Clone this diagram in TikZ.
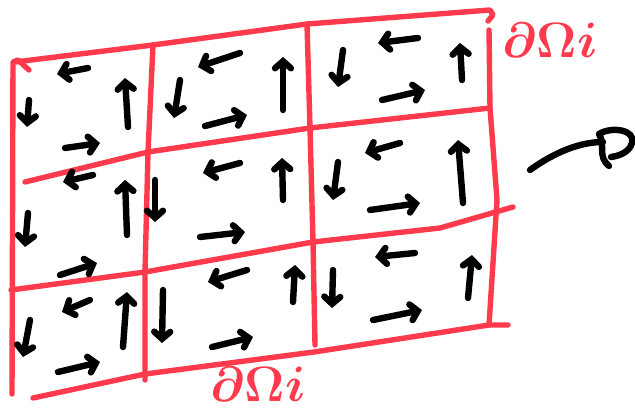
\documentclass[tikz,border=0pt]{standalone}
\usepackage{tikz}
\usepackage{xcolor}
\usetikzlibrary{arrows.meta}
\definecolor{PenRed}{HTML}{FF3A4C}
\tikzset{
  penred/.style={draw=PenRed, line width=2.7pt, line cap=round, line join=round},
  penblack/.style={draw=black, line width=3.2pt, line cap=round, line join=round},
  fluxarrow/.style={penblack, -{Straight Barb[length=3.5pt,width=8pt,line cap=round]}},
  bdlabel/.style={text=PenRed, font=\fontsize{29}{29}\selectfont\boldmath, inner sep=0pt}
}

\begin{document}
\begin{tikzpicture}[x=0.5pt,y=-0.5pt]
  \useasboundingbox (0,0) rectangle (635,411);
  % grid corners g<row><col>
  \foreach \n/\x/\y in {00/15/62,01/153/45,02/307/24,03/490/10,
                        11/148/152,12/310/128,13/490/108,
                        21/145/272,22/313/242,
                        31/145/374,32/314/352,33/489/325} {
    \coordinate (g\n) at (\x,\y);
  }
  % red grid
  \draw[penred] (g00) -- (g01) -- (g02) -- (g03) -- (493,15) -- (488,21);
  \draw[penred] (25,182) -- (g11) -- (g12) -- (g13);
  \draw[penred] (11,290) -- (g21) -- (g22) -- (440,228) -- (513,207);
  \draw[penred] (33,398) -- (g31) -- (g32) -- (g33) -- (508,325);
  \draw[penred] (29,70) -- (18,60) -- (13,62) -- (12,394);
  \draw[penred] (g01) -- (g11) -- (g21) -- (145,380);
  \draw[penred] (g02) -- (g12) -- (g22) -- (315,345);
  \draw[penred] (489,30) -- (g13) -- (497,200) -- (g33);
  % circulation arrows in each cell
  \foreach \a/\b/\c/\d in {29/100/27/127, 88/68/57/74, 128/127/125/78, 65/148/100/143,
                           180/80/174/118, 240/53/198/67, 283/110/283/57, 205/126/247/115,
                           343/50/338/87, 418/38/378/43, 462/80/460/43, 382/100/425/90,
                           28/213/25/247, 93/175/63/182, 127/235/125/180, 60/275/97/263,
                           155/180/155/222, 240/163/203/173, 283/200/282/158, 200/237/245/232,
                           338/162/333/200, 400/143/365/153, 463/203/458/140, 370/210/420/203,
                           30/320/23/357, 90/300/62/312, 123/347/127/292, 58/372/100/362,
                           163/290/162/343, 247/270/208/282, 293/302/295/265, 212/347/253/337,
                           333/270/332/308, 415/253/375/257, 468/298/472/255, 373/320/422/310} {
    \draw[fluxarrow] (\a,\b) -- (\c,\d);
  }
  % boundary labels
  \node[bdlabel] (bdtop) at (550,40) {$\partial\Omega i$};
  \node[bdlabel] (bdbot) at (258,384) {$\partial\Omega i$};
  % rotation sign
  \draw[penblack] (530,170) .. controls (555,152) and (580,142) .. (603,142);
  \draw[penblack] (609,166) .. controls (597,156) and (606,146) .. (599,134)
    .. controls (612,126) and (636,130) .. (632,143) .. controls (629,153) and (618,156) .. (611,157);
\end{tikzpicture}
\end{document}
